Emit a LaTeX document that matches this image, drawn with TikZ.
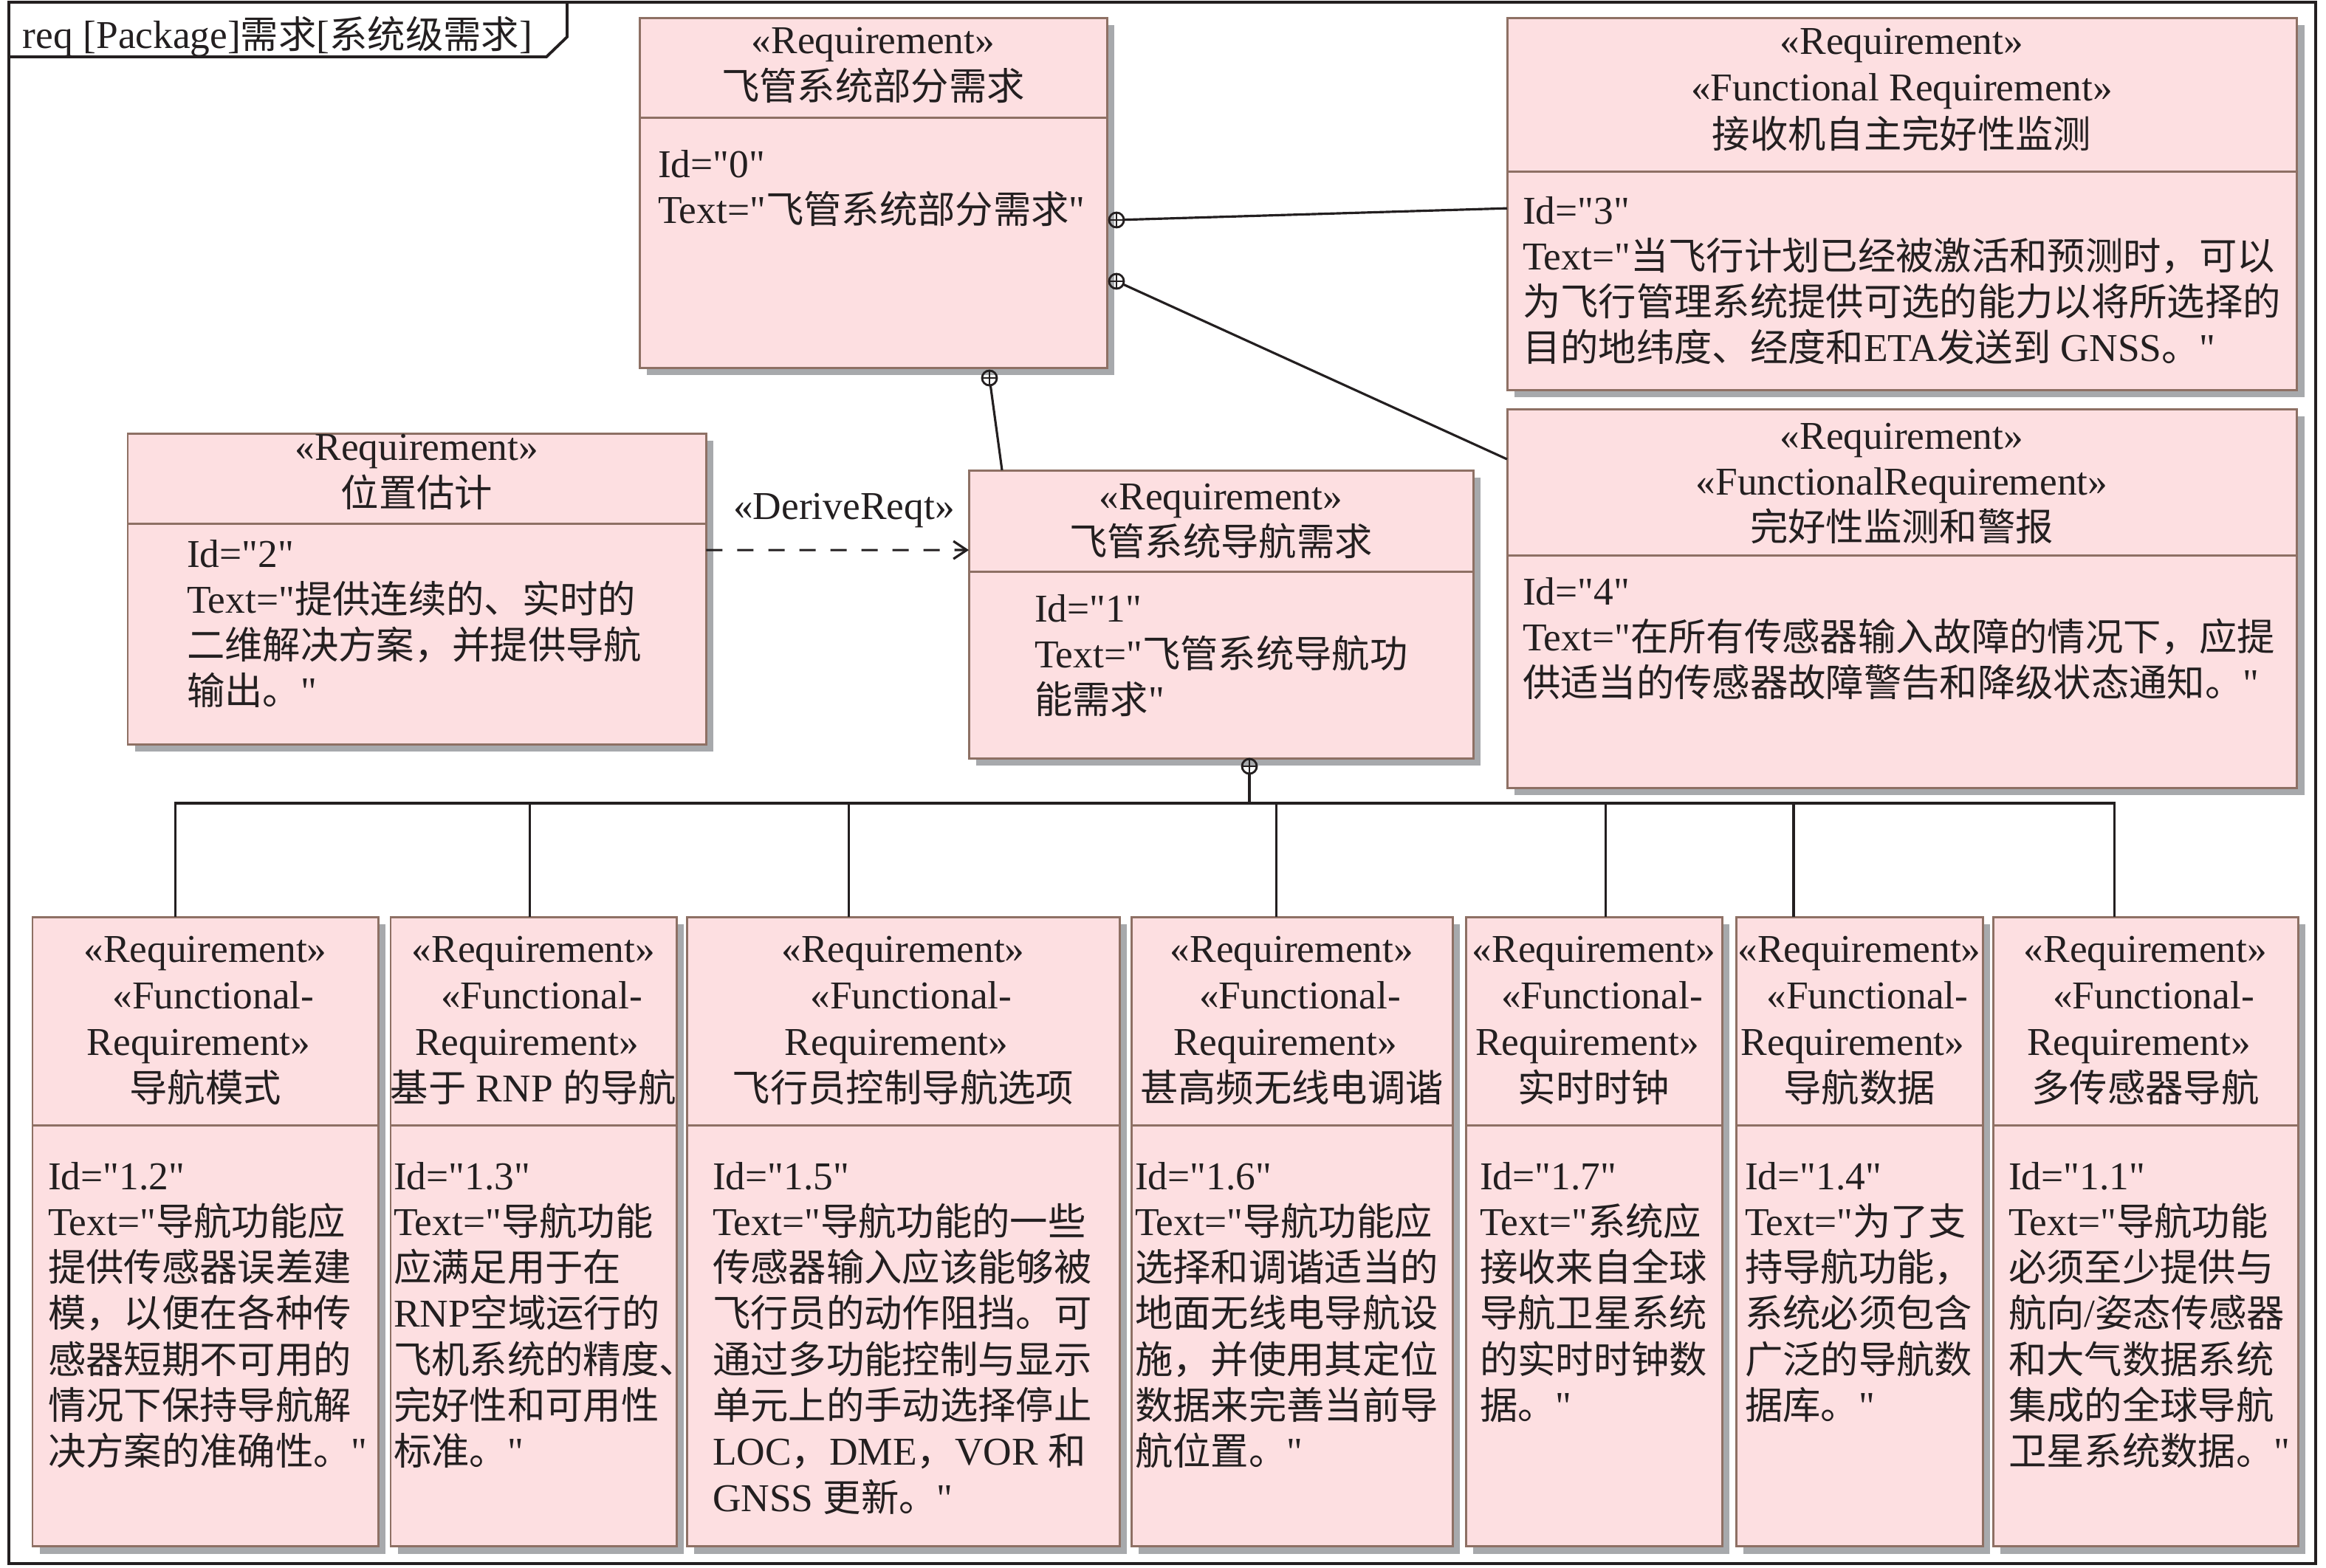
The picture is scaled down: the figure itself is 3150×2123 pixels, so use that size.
\documentclass[tikz,border=0pt]{standalone}
\usepackage{fontspec}
\setmainfont{Liberation Serif}[Scale=1.04,Ligatures=TeXOff]
\newfontfamily\cjk{Noto Sans CJK SC}
\usetikzlibrary{shadows,arrows.meta,calc}
\definecolor{reqfill}{HTML}{FDDFE1}
\definecolor{reqborder}{HTML}{8E7064}
\definecolor{shadowgray}{HTML}{A7A9AC}
\definecolor{ink}{HTML}{231F20}
\newcommand\z[1]{{\cjk #1}}
% lines of text: anchor, name, x, first baseline, step, list
\newcommand\txl[6]{\foreach \t [count=\i] in {#6} {\node[txt,anchor=#1,name=#2-\i] at (#3,{#4+(\i-1)*#5}) {\t};}}
% box: name, x, y, w(cm), h(cm), separator y
\newcommand\rbox[6]{%
  \node[reqbox,minimum width=#4cm,minimum height=#5cm] (#1) at (#2,#3) {};
  \draw[sepline] (#1.west |- 0,#6) -- (#1.east |- 0,#6);}
% header of bottom boxes: name, centre x, title
\newcommand\bhead[3]{%
  \node[txt,anchor=base] (#1-h1) at (#2,1303) {«Requirement»};
  \node[txt,anchor=base] (#1-h2) at ([xshift=0.11cm]#2,1366) {«Functional-};
  \node[txt,anchor=base] (#1-h3) at ([xshift=-0.09cm]#2,1429) {Requirement»};
  \node[txt,anchor=base] (#1-h4) at (#2,1492) {#3};}
\begin{document}
\begin{tikzpicture}[x=0.01cm,y=-0.01cm,font=\fontsize{14.6pt}{17.8pt}\selectfont,
  reqbox/.style={draw=reqborder,fill=reqfill,line width=0.85pt,inner sep=0pt,outer sep=0pt,anchor=north west,
    drop shadow={shadow xshift=0.1cm,shadow yshift=-0.1cm,fill=shadowgray,opacity=1}},
  sepline/.style={draw=reqborder,line width=0.85pt},
  conn/.style={draw=ink,line width=0.9pt},
  txt/.style={inner sep=0pt,outer sep=0pt,text=ink},
  oplus/.style={circle,draw=ink,line width=0.8pt,minimum size=0.2cm,inner sep=0pt,outer sep=0pt,
    path picture={\draw[ink,line width=0.8pt] (path picture bounding box.north) -- (path picture bounding box.south)
      (path picture bounding box.west) -- (path picture bounding box.east);}},
  frameline/.style={draw=ink,line width=1.1pt}]
\useasboundingbox (0,0) rectangle (3150,2123);
% frame
\draw[frameline] (12,3) rectangle (3136,2118);
\draw[frameline] (12,77) -- (740,77) -- (768,50) -- (768,3);
\node[txt,anchor=base west] (title) at (31,65) {req [Package]\z{需求}[\z{系统级需求}]};
% boxes
\rbox{b0}{866}{24}{6.33}{4.74}{159}
\rbox{b3}{2041}{24}{10.69}{5.04}{232}
\rbox{b4}{2041}{554}{10.69}{5.13}{752}
\rbox{b2}{173}{587}{7.83}{4.21}{709}
\rbox{b1}{1312}{637}{6.83}{3.90}{774}
\rbox{B1}{44}{1242}{4.68}{8.52}{1524}
\rbox{B2}{529}{1242}{3.87}{8.52}{1524}
\rbox{B3}{930}{1242}{5.86}{8.52}{1524}
\rbox{B4}{1532}{1242}{4.35}{8.52}{1524}
\rbox{B5}{1985}{1242}{3.47}{8.52}{1524}
\rbox{B6}{2351}{1242}{3.34}{8.52}{1524}
\rbox{B7}{2699}{1242}{4.13}{8.52}{1524}
% texts of upper boxes
\txl{base}{b0h}{1182.5}{72}{63}{«Requirement»,\z{飞管系统部分需求}}
\txl{base west}{b0t}{891}{240}{62.3}{Id="0",Text="\z{飞管系统部分需求}"}
\txl{base}{b3h}{2575.5}{73}{63.5}{«Requirement»,«Functional Requirement»,\z{接收机自主完好性监测}}
\txl{base west}{b3t}{2062}{303}{62}{Id="3",Text="\z{当飞行计划已经被激活和预测时，可以},\z{为飞行管理系统提供可选的能力以将所选择的},\z{目的地纬度、经度和}ETA\z{发送到} GNSS\z{。}"}
\txl{base}{b4h}{2575.5}{608}{62}{«Requirement»,«FunctionalRequirement»,\z{完好性监测和警报}}
\txl{base west}{b4t}{2062}{819}{62}{Id="4",Text="\z{在所有传感器输入故障的情况下，应提},\z{供适当的传感器故障警告和降级状态通知。}"}
\txl{base}{b2h}{564.5}{623}{63}{«Requirement»,\z{位置估计}}
\txl{base west}{b2t}{253}{768}{62}{Id="2",Text="\z{提供连续的、实时的},\z{二维解决方案，并提供导航},\z{输出。}"}
\txl{base}{b1h}{1653.5}{690}{62}{«Requirement»,\z{飞管系统导航需求}}
\txl{base west}{b1t}{1401}{842}{62}{Id="1",Text="\z{飞管系统导航功},\z{能需求}"}
% texts of lower boxes
\bhead{B1}{278}{\z{导航模式}}
\bhead{B2}{722.5}{\resizebox{3.87cm}{!}{\z{基于} RNP \z{的导航}}}
\bhead{B3}{1223}{\z{飞行员控制导航选项}}
\bhead{B4}{1749.5}{\z{甚高频无线电调谐}}
\bhead{B5}{2158.5}{\z{实时时钟}}
\bhead{B6}{2518}{\z{导航数据}}
\bhead{B7}{2905.5}{\z{多传感器导航}}
\txl{base west}{B1t}{65}{1611}{62.3}{Id="1.2",Text="\z{导航功能应},\z{提供传感器误差建},\z{模，以便在各种传},\z{感器短期不可用的},\z{情况下保持导航解},\z{决方案的准确性。}"}
\txl{base west}{B2t}{533}{1611}{62.3}{Id="1.3",Text="\z{导航功能},\z{应满足用于在},RNP\z{空域运行的},\z{飞机系统的精度、},\z{完好性和可用性},\z{标准。}"}
\txl{base west}{B3t}{965}{1611}{62.3}{Id="1.5",Text="\z{导航功能的一些},\z{传感器输入应该能够被},\z{飞行员的动作阻挡。可},\z{通过多功能控制与显示},\z{单元上的手动选择停止},LOC\z{，}DME\z{，}VOR \z{和},GNSS \z{更新。}"}
\txl{base west}{B4t}{1537}{1611}{62.3}{Id="1.6",Text="\z{导航功能应},\z{选择和调谐适当的},\z{地面无线电导航设},\z{施，并使用其定位},\z{数据来完善当前导},\z{航位置。}"}
\txl{base west}{B5t}{2004}{1611}{62.3}{Id="1.7",Text="\z{系统应},\z{接收来自全球},\z{导航卫星系统},\z{的实时时钟数},\z{据。}"}
\txl{base west}{B6t}{2363}{1611}{62.3}{Id="1.4",Text="\z{为了支},\z{持导航功能，},\z{系统必须包含},\z{广泛的导航数},\z{据库。}"}
\txl{base west}{B7t}{2720}{1611}{62.3}{Id="1.1",Text="\z{导航功能},\z{必须至少提供与},\z{航向}/\z{姿态传感器},\z{和大气数据系统},\z{集成的全球导航},\z{卫星系统数据。}"}
% composition connectors
\node[oplus] (o0a) at (1512,298) {};
\node[oplus] (o0b) at (1512,381) {};
\node[oplus] (o0c) at (1340,512) {};
\node[oplus] (o1) at (1692,1038) {};
\draw[conn] (o0a) -- ([yshift=-0.06cm]b3.west);
\draw[conn] (o0b) -- ([yshift=-0.68cm]b4.north west);
\draw[conn] (o0c) -- ([xshift=0.45cm]b1.north west);
\coordinate (j) at (1692,1088);
\draw[conn] (o1) -- (j);
\draw[conn] ([xshift=-0.41cm]B1.north) |- (j);
\draw[conn] ([xshift=-0.055cm]B2.north) |- (j);
\draw[conn] ([xshift=-0.74cm]B3.north) |- (j);
\draw[conn] ([xshift=-0.215cm]B4.north) |- (j);
\draw[conn] ([xshift=0.155cm]B5.north) |- (j);
\draw[conn] ([xshift=-0.89cm]B6.north) |- (j);
\draw[conn] ([xshift=-0.425cm]B7.north) |- (j);
% derive dependency
\draw[conn,dash pattern=on 0.22cm off 0.2cm,-{Straight Barb[length=0.18cm,width=0.24cm]}]
  ([yshift=0.525cm]b2.east) -- ([yshift=0.87cm]b1.west);
\node[txt,anchor=base] (derive) at (1143,703) {«DeriveReqt»};
\end{tikzpicture}
\end{document}
